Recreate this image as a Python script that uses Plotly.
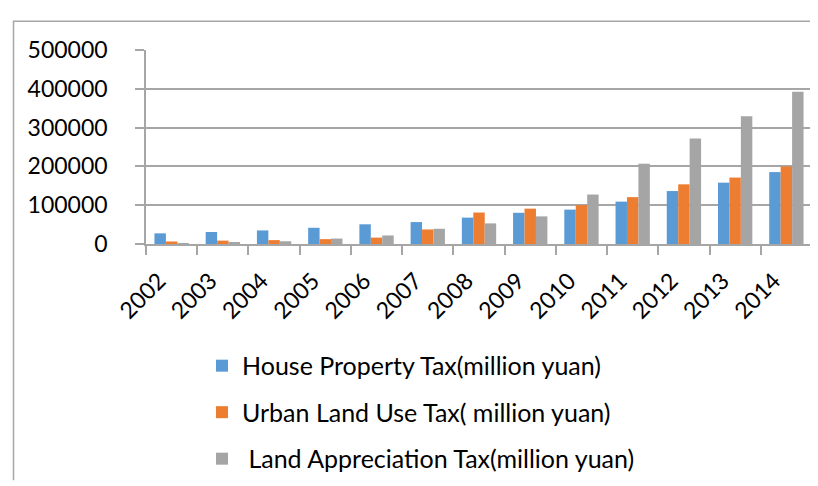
import plotly.graph_objects as go

years = ["2002", "2003", "2004", "2005", "2006", "2007", "2008",
         "2009", "2010", "2011", "2012", "2013", "2014"]
house_property_tax = [27500, 31000, 35000, 41800, 50800, 56500, 68000,
                      80400, 88600, 109200, 136500, 158100, 185400]
urban_land_use_tax = [6500, 8700, 10000, 12500, 16500, 37500, 81100,
                      91100, 100200, 120800, 153800, 171200, 199500]
land_appreciation_tax = [1500, 3500, 7000, 14000, 22000, 39200, 53100,
                         71200, 127500, 206900, 272200, 329300, 392100]

series_names = ["House Property Tax(million yuan)",
                "Urban Land Use Tax( million yuan)",
                "\u00a0Land Appreciation Tax(million yuan)"]
colors = ["#5B9BD5", "#ED7D31", "#A5A5A5"]
y_ticks = [0, 100000, 200000, 300000, 400000, 500000]

FONT = "Lato"
fig = go.Figure()
for i, (name, vals) in enumerate(zip(series_names,
                                     [house_property_tax, urban_land_use_tax, land_appreciation_tax])):
    fig.add_trace(go.Bar(x=years, y=vals, name=name, marker_color=colors[i],
                         marker_line_width=0, legendgroup=f"g{i}"))

# plot-area geometry in pixels
L, R, T, B = 138, 14, 42, 242
W = 818 - L - R
H = 486 - T - B

def px(x):
    return (x - L) / W

def py(y):
    return (486 - B - y) / H

fig.update_layout(
    width=818, height=486,
    margin=dict(l=L, r=R, t=T, b=B, pad=0),
    paper_bgcolor="white", plot_bgcolor="white",
    barmode="group", bargap=0.33, bargroupgap=0,
    font=dict(family=FONT, size=23, color="#000000"),
    showlegend=True,
    legend=dict(orientation="v", x=px(194), xanchor="left", y=py(347), yanchor="top",
                tracegroupgap=11, font=dict(family=FONT, size=25, color="#000000"),
                bgcolor="rgba(0,0,0,0)", itemsizing="constant"),
    xaxis=dict(type="category", showgrid=False, showline=True, linecolor="#A6A6A6", linewidth=1.5,
               ticks="outside", ticklen=9, tickcolor="#A6A6A6", tickwidth=1.5,
               tickson="boundaries", tickangle=-45,
               tickvals=years, ticktext=[y + "\u00a0\u00a0\u00a0" for y in years],
               tickfont=dict(family=FONT, size=23, color="#000000")),
    yaxis=dict(range=[0, 500000], tickvals=y_ticks, ticktext=[str(v) for v in y_ticks],
               showgrid=True, gridcolor="#A6A6A6", gridwidth=1.5,
               showline=True, linecolor="#A6A6A6", linewidth=1.5,
               ticks="outside", ticklen=9, tickcolor="#A6A6A6", tickwidth=1.5,
               ticklabelstandoff=23, zeroline=False,
               tickfont=dict(family=FONT, size=23, color="#000000")),
)

# outer chart frame (left and top edges visible)
fig.add_shape(type="path", xref="paper", yref="paper",
              path=f"M {px(5.5)},{py(490)} L {px(5.5)},{py(12)} L {px(822)},{py(12)}",
              line=dict(color="#A6A6A6", width=1.5), layer="above")

fig.write_html("out.html")
